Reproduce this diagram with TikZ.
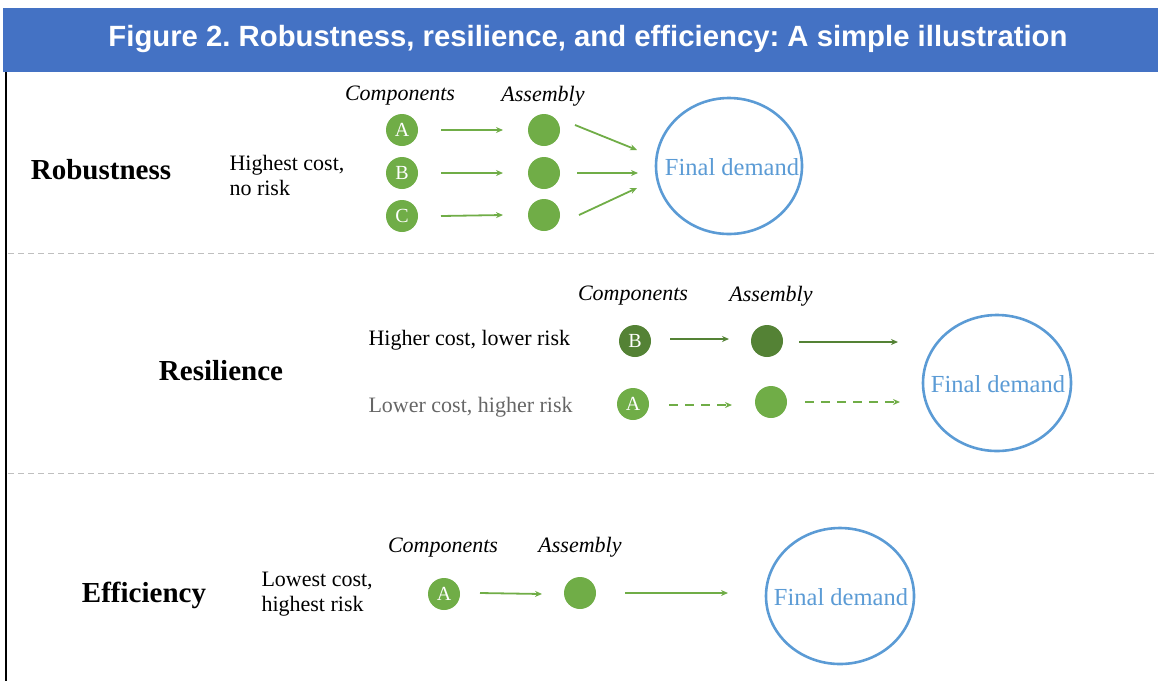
\documentclass[tikz,border=0pt]{standalone}
\usepackage{fontspec}
\setmainfont{Liberation Serif}
\newfontfamily\titlefont{Liberation Sans}
\usetikzlibrary{arrows.meta}
\frenchspacing
\definecolor{titleblue}{HTML}{4472C4}
\definecolor{lgreen}{HTML}{70AD47}
\definecolor{dgreen}{HTML}{548235}
\definecolor{fdblue}{HTML}{5B9BD5}
\definecolor{sepgray}{HTML}{BFBFBF}
\definecolor{txtgray}{HTML}{666666}
\tikzset{
  x=1pt,y=-1pt,
  comp/.style={circle,fill=lgreen,inner sep=0pt,minimum size=32pt,text=white,font=\fontsize{20}{20}\selectfont},
  compd/.style={comp,fill=dgreen},
  asm/.style={circle,fill=lgreen,inner sep=0pt,minimum size=32pt},
  asmd/.style={asm,fill=dgreen},
  final/.style={inner sep=0pt,text=fdblue,font=\fontsize{24.5}{25}\selectfont},
  ring/.style={draw=fdblue,line width=2.6pt},
  flow/.style={draw=lgreen,line width=1.8pt,-{Stealth[length=7pt,width=6pt]}},
  flowd/.style={flow,draw=dgreen},
  flowdash/.style={flow,dash pattern=on 9pt off 7pt},
  sect/.style={font=\fontsize{29}{29}\selectfont\bfseries},
  lbl/.style={font=\fontsize{22}{25}\selectfont,align=left,anchor=west},
  hdr/.style={font=\fontsize{22}{22}\selectfont\itshape},
  sep/.style={draw=sepgray,line width=1pt,dash pattern=on 6pt off 4pt}
}
\begin{document}
\begin{tikzpicture}
\useasboundingbox (0,0) rectangle (1158,681);
% title bar
\fill[titleblue] (3,8) rectangle (1158,72);
\node[text=white,font=\titlefont\fontsize{29.3}{30}\selectfont\bfseries] (title) at (588,39) {Figure 2. Robustness, resilience, and efficiency: A simple illustration};
% left rule
\draw[black,line width=2pt] (6,72) -- (6,681);
% separators
\draw[sep] (8,253) -- (1158,253);
\draw[sep] (8,473) -- (1158,473);

% ---------- Robustness ----------
\node[sect] (rob) at (101,170) {Robustness};
\node[lbl] (roblbl) at (226,175) {Highest cost,\\no risk};
\node[hdr] (rcomp) at (400,96) {Components};
\node[hdr] (rasm) at (543,96) {Assembly};
\node[comp] (rA) at (402,130) {A};
\node[comp] (rB) at (402,173) {B};
\node[comp] (rC) at (402,216) {C};
\node[asm] (ra1) at (544,130) {};
\node[asm] (ra2) at (544,173) {};
\node[asm] (ra3) at (544,215) {};
\node[final] (rF) at (732,167) {Final demand};
\draw[ring] (729,166) ellipse [x radius=73,y radius=68];
\coordinate (rA1) at (441,130); \coordinate (rA2) at (503,130);
\coordinate (rB1) at (441,173); \coordinate (rB2) at (503,173);
\coordinate (rC1) at (441,216); \coordinate (rC2) at (503,215);
\draw[flow] (rA1) -- (rA2);
\draw[flow] (rB1) -- (rB2);
\draw[flow] (rC1) -- (rC2);
\coordinate (rt1) at (637,150);
\coordinate (rt2) at (638,173);
\coordinate (rt3) at (637,188);
\draw[flow] (575,125) -- (rt1);
\draw[flow] (577,173) -- (rt2);
\draw[flow] (579,215) -- (rt3);

% ---------- Resilience ----------
\node[sect] (res) at (221,371) {Resilience};
\node[hdr] (scomp) at (633,296) {Components};
\node[hdr] (sasm) at (771,296) {Assembly};
\node[lbl] (slbl1) at (365,340) {Higher cost, lower risk};
\node[lbl,text=txtgray] (slbl2) at (365,407) {Lower cost, higher risk};
\node[compd] (sB) at (635,341) {B};
\node[asmd] (sa1) at (767,341) {};
\node[comp] (sA) at (633,404) {A};
\node[asm] (sa2) at (771,402) {};
\node[final] (sF) at (998,384) {Final demand};
\draw[ring] (997,383) ellipse [x radius=74,y radius=68];
\coordinate (s1a) at (670,339); \coordinate (s1b) at (729,339);
\coordinate (s2a) at (799,342); \coordinate (s2b) at (898,342);
\coordinate (s3a) at (669,405); \coordinate (s3b) at (732,405);
\coordinate (s4a) at (805,402); \coordinate (s4b) at (900,402);
\draw[flowd] (s1a) -- (s1b);
\draw[flowd] (s2a) -- (s2b);
\draw[flowdash] (s3a) -- (s3b);
\draw[flowdash] (s4a) -- (s4b);

% ---------- Efficiency ----------
\node[sect] (eff) at (144,595) {Efficiency};
\node[lbl] (elbl) at (258,594) {Lowest cost,\\highest risk};
\node[hdr] (ecomp) at (443,548) {Components};
\node[hdr] (easm) at (580,547) {Assembly};
\node[comp] (eA) at (444,594) {A};
\node[asm] (ea) at (580,593) {};
\node[final] (eF) at (841,597) {Final demand};
\draw[ring] (840,596) ellipse [x radius=74,y radius=68];
\coordinate (e1a) at (480,593); \coordinate (e1b) at (542,594);
\coordinate (e2a) at (625,593); \coordinate (e2b) at (728,593);
\draw[flow] (e1a) -- (e1b);
\draw[flow] (e2a) -- (e2b);
\end{tikzpicture}
\end{document}
